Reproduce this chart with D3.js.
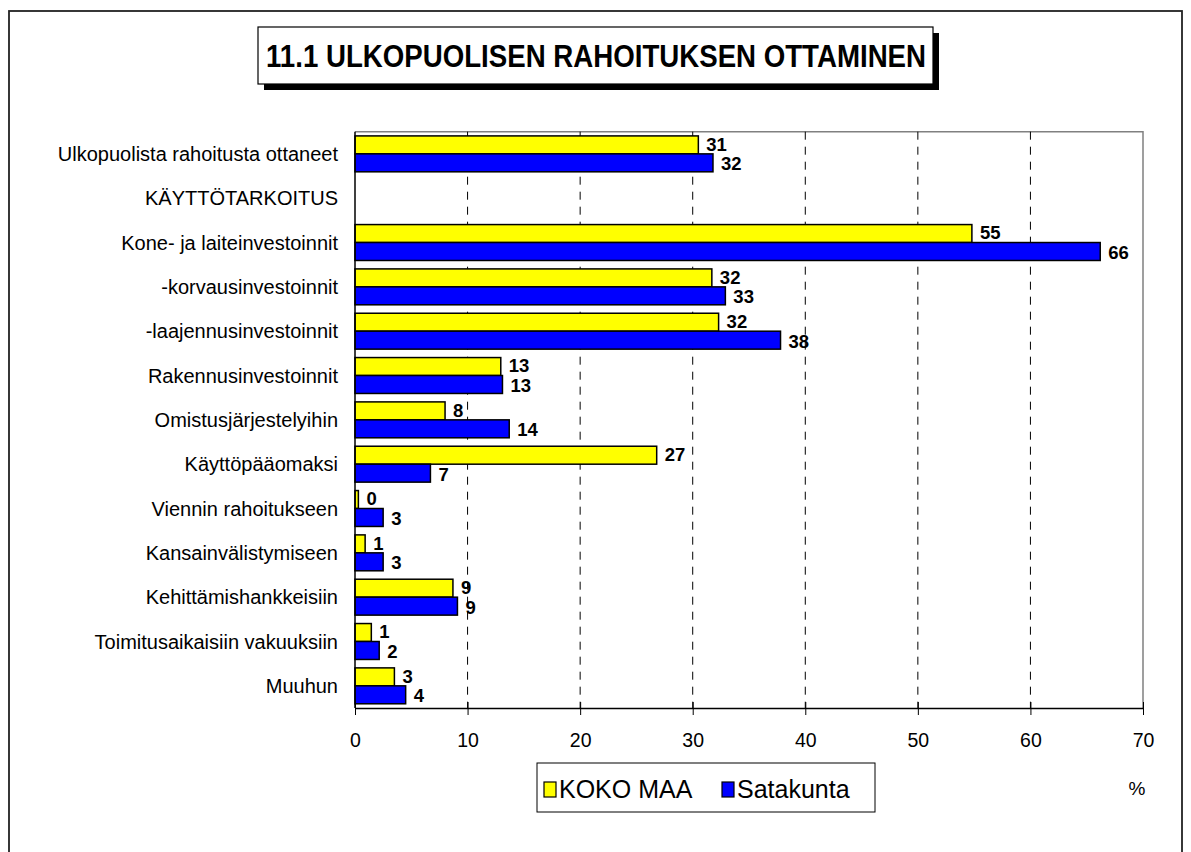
<!DOCTYPE html>
<html>
<head>
<meta charset="utf-8">
<script src="https://cdn.jsdelivr.net/npm/d3@7"></script>
<style>
  body { margin: 0; background: #fff; }
  svg { display: block; font-family: "Liberation Sans", Arial, sans-serif; }
</style>
</head>
<body>
<div id="chart"></div>
<script>
// chart data
const categories = [
  'Ulkopuolista rahoitusta ottaneet',
  'KÄYTTÖTARKOITUS',
  'Kone- ja laiteinvestoinnit',
  '-korvausinvestoinnit',
  '-laajennusinvestoinnit',
  'Rakennusinvestoinnit',
  'Omistusjärjestelyihin',
  'Käyttöpääomaksi',
  'Viennin rahoitukseen',
  'Kansainvälistymiseen',
  'Kehittämishankkeisiin',
  'Toimitusaikaisiin vakuuksiin',
  'Muuhun'
];
const seriesNames = ['KOKO MAA', 'Satakunta'];
const kokoMaa = [30.5, null, 54.8, 31.7, 32.3, 12.95, 8.0, 26.8, 0.3, 0.9, 8.7, 1.45, 3.5];
const satakunta = [31.8, null, 66.2, 32.9, 37.8, 13.1, 13.7, 6.7, 2.5, 2.5, 9.1, 2.15, 4.5];
const kokoMaaLabels = ['31', '', '55', '32', '32', '13', '8', '27', '0', '1', '9', '1', '3'];
const satakuntaLabels = ['32', '', '66', '33', '38', '13', '14', '7', '3', '3', '9', '2', '4'];
const xTicks = [0, 10, 20, 30, 40, 50, 60, 70];
const colors = ['#ffff00', '#0000ff'];

const width = 1191, height = 852;
const plot = {left: 355, right: 1143, top: 131.7, bottom: 708};

const svg = d3.select('#chart').append('svg')
    .attr('width', width)
    .attr('height', height);

// outer frame
svg.append('rect')
    .attr('x', 9).attr('y', 11)
    .attr('width', 1173).attr('height', 900)
    .attr('fill', 'none')
    .attr('stroke', '#222')
    .attr('stroke-width', 1.8);

// title box with shadow
svg.append('rect')
    .attr('x', 264).attr('y', 33)
    .attr('width', 675).attr('height', 57)
    .attr('fill', '#000');
svg.append('rect')
    .attr('x', 258).attr('y', 27)
    .attr('width', 675).attr('height', 57)
    .attr('fill', '#fff')
    .attr('stroke', '#000')
    .attr('stroke-width', 1.2);
svg.append('text')
    .attr('x', 596).attr('y', 67)
    .attr('text-anchor', 'middle')
    .attr('font-size', 32)
    .attr('font-weight', 'bold')
    .attr('textLength', 660)
    .attr('lengthAdjust', 'spacingAndGlyphs')
    .text('11.1 ULKOPUOLISEN RAHOITUKSEN OTTAMINEN');

const x = d3.scaleLinear().domain([0, 70]).range([plot.left, plot.right]);
const y = d3.scaleBand().domain(categories)
    .range([plot.top, plot.bottom])
    .paddingInner(0.19)
    .paddingOuter(0.095);
const ySub = d3.scaleBand().domain(seriesNames).range([0, y.bandwidth()]);

// plot frame top/right
svg.append('path')
    .attr('d', `M${plot.left},${plot.top}H${plot.right}V${plot.bottom}`)
    .attr('fill', 'none')
    .attr('stroke', '#808080')
    .attr('stroke-width', 1.5);

// gridlines
svg.append('g').selectAll('line')
    .data(xTicks.filter(d => d > 0 && d < 70))
    .enter().append('line')
    .attr('x1', d => x(d)).attr('x2', d => x(d))
    .attr('y1', plot.top).attr('y2', plot.bottom)
    .attr('stroke', '#000')
    .attr('stroke-width', 1)
    .attr('stroke-dasharray', '8,7');

// bars
const rows = categories.map((c, i) => ({
  cat: c,
  vals: [
    {s: seriesNames[0], v: kokoMaa[i], label: kokoMaaLabels[i], color: colors[0]},
    {s: seriesNames[1], v: satakunta[i], label: satakuntaLabels[i], color: colors[1]}
  ]
}));

const grp = svg.append('g').selectAll('g')
    .data(rows)
    .enter().append('g')
    .attr('transform', d => 'translate(0,' + y(d.cat) + ')');

const bar = grp.selectAll('g')
    .data(d => d.vals.filter(v => v.v !== null))
    .enter().append('g');

bar.append('rect')
    .attr('x', x(0))
    .attr('y', d => ySub(d.s))
    .attr('width', d => x(d.v) - x(0))
    .attr('height', ySub.bandwidth())
    .attr('fill', d => d.color)
    .attr('stroke', '#000')
    .attr('stroke-width', 1.5);

// first series label sits a little higher, second a little lower
bar.append('text')
    .attr('x', d => x(d.v) + 8)
    .attr('y', (d, i) => ySub(d.s) + ySub.bandwidth() / 2 + (d.s === seriesNames[0] ? -1 : 1))
    .attr('dy', '0.36em')
    .attr('font-size', 18.5)
    .attr('font-weight', 'bold')
    .text(d => d.label);

// category labels
svg.append('g').selectAll('text')
    .data(categories)
    .enter().append('text')
    .attr('x', 338)
    .attr('y', d => y(d) + y.bandwidth() / 2)
    .attr('dy', '0.36em')
    .attr('text-anchor', 'end')
    .attr('font-size', 20)
    .text(d => d);

// left axis line
svg.append('line')
    .attr('x1', plot.left).attr('x2', plot.left)
    .attr('y1', plot.top).attr('y2', plot.bottom)
    .attr('stroke', '#000')
    .attr('stroke-width', 1.5);

// bottom axis
const xAxis = svg.append('g')
    .attr('transform', 'translate(0,' + plot.bottom + ')')
    .call(d3.axisBottom(x).tickValues(xTicks).tickSizeInner(7).tickSizeOuter(0));
xAxis.select('.domain').attr('stroke', '#000').attr('stroke-width', 1.5);
xAxis.selectAll('.tick line').attr('y1', -6).attr('stroke', '#000');
xAxis.selectAll('.tick text')
    .attr('y', 32)
    .attr('dy', '0.36em')
    .attr('font-size', 19.5)
    .attr('font-family', '"Liberation Sans", Arial, sans-serif')
    .attr('fill', '#000');

svg.append('text')
    .attr('x', 1137).attr('y', 788)
    .attr('dy', '0.36em')
    .attr('text-anchor', 'middle')
    .attr('font-size', 19)
    .text('%');

// legend
const legend = svg.append('g');
legend.append('rect')
    .attr('x', 537).attr('y', 763)
    .attr('width', 338).attr('height', 49)
    .attr('fill', '#fff')
    .attr('stroke', '#000')
    .attr('stroke-width', 1);
const legendPos = [544, 722];
const item = legend.selectAll('g.item')
    .data(seriesNames)
    .enter().append('g')
    .attr('class', 'item')
    .attr('transform', (d, i) => 'translate(' + legendPos[i] + ',0)');
item.append('rect')
    .attr('x', 0).attr('y', 782)
    .attr('width', 12).attr('height', 15)
    .attr('fill', (d, i) => colors[i])
    .attr('stroke', '#000')
    .attr('stroke-width', 1.2);
item.append('text')
    .attr('x', 15).attr('y', 789)
    .attr('dy', '0.36em')
    .attr('font-size', 25)
    .text(d => d);
</script>
</body>
</html>
